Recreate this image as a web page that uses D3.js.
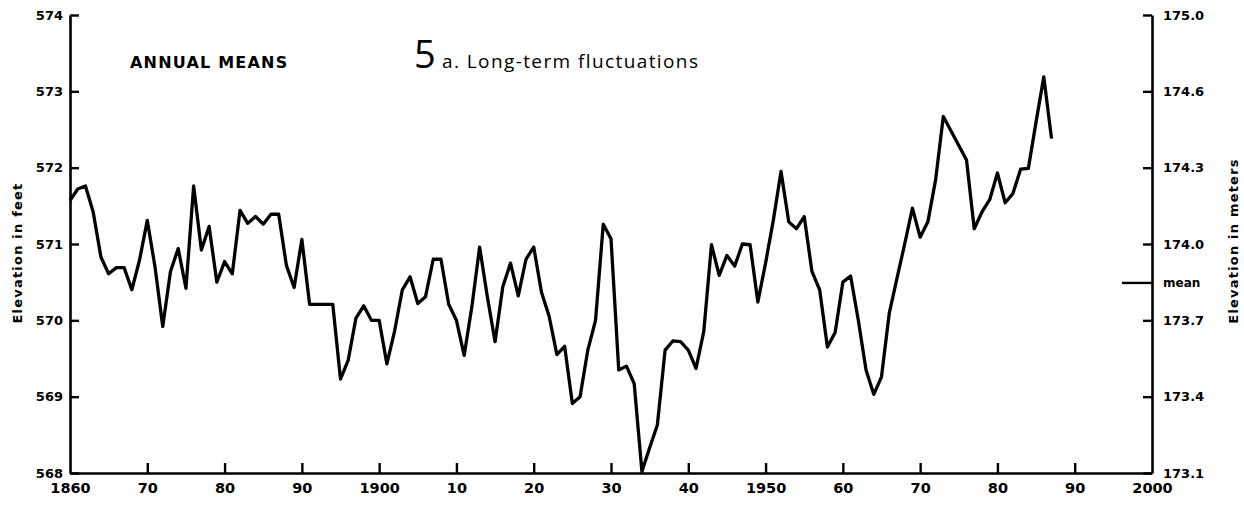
<!DOCTYPE html>
<html>
<head>
<meta charset="utf-8">
<script src="https://cdn.jsdelivr.net/npm/d3@7"></script>
<style>
  body { margin: 0; background: #fff; }
  svg { display: block; }
  .axis text { font-family: "DejaVu Sans", sans-serif; font-weight: bold; fill: #000; }
</style>
</head>
<body>
<script>
// annual mean lake level, feet, 1860-1987
var years = d3.range(1860, 1988);
var levels = [
  571.57, 571.72, 571.76, 571.42, 570.83, 570.61, 570.69, 570.69, 570.40, 570.79,
  571.31, 570.70, 569.92, 570.64, 570.94, 570.42, 571.76, 570.92, 571.23, 570.50,
  570.77, 570.61, 571.44, 571.27, 571.36, 571.26, 571.39, 571.39, 570.72, 570.43,
  571.06, 570.21, 570.21, 570.21, 570.21, 569.23, 569.48, 570.03, 570.19, 570.00,
  570.00, 569.43, 569.86, 570.40, 570.57, 570.22, 570.31, 570.80, 570.80, 570.21,
  570.00, 569.54, 570.18, 570.96, 570.31, 569.72, 570.44, 570.75, 570.32, 570.80,
  570.96, 570.37, 570.05, 569.55, 569.66, 568.91, 569.00, 569.61, 570.00, 571.26,
  571.07, 569.35, 569.40, 569.17, 568.02, 568.33, 568.63, 569.61, 569.73, 569.72,
  569.61, 569.37, 569.85, 570.99, 570.59, 570.85, 570.71, 571.00, 570.99, 570.24,
  570.75, 571.31, 571.95, 571.29, 571.20, 571.36, 570.64, 570.40, 569.65, 569.84,
  570.50, 570.58, 570.00, 569.35, 569.03, 569.26, 570.09, 570.55, 571.00, 571.47,
  571.09, 571.29, 571.84, 572.67, 572.48, 572.29, 572.10, 571.20, 571.42, 571.58,
  571.93, 571.54, 571.66, 571.98, 571.99, 572.60, 573.19, 572.38
];

var feetTicks = [568, 569, 570, 571, 572, 573, 574];
var meterLabels = ["173.1", "173.4", "173.7", "174.0", "174.3", "174.6", "175.0"];
var meanLevel = 570.49;

var yearTicks = d3.range(1860, 2001, 10);
var yearLabels = ["1860", "70", "80", "90", "1900", "10", "20", "30", "40", "1950", "60", "70", "80", "90", "2000"];

var data = years.map(function(y, i) { return {year: y, level: levels[i]}; });

var width = 1244, height = 514;
var plot = {left: 70, right: 1152, top: 15, bottom: 473};

var svg = d3.select("body").append("svg")
    .attr("width", width)
    .attr("height", height);

var x = d3.scaleLinear().domain([1860, 2000]).range([plot.left, plot.right]);
var y = d3.scaleLinear().domain([568, 574]).range([plot.bottom, plot.top]);

// left axis (feet)
var gl = svg.append("g")
    .attr("class", "axis")
    .attr("transform", "translate(" + plot.left + ",0)")
    .call(d3.axisLeft(y).tickValues(feetTicks).tickFormat(d3.format("d"))
      .tickSize(-9).tickSizeOuter(0).tickPadding(7));

// right axis (meters)
var gr = svg.append("g")
    .attr("class", "axis")
    .attr("transform", "translate(" + plot.right + ",0)")
    .call(d3.axisRight(y).tickValues(feetTicks)
      .tickFormat(function(d, i) { return meterLabels[i]; })
      .tickSize(-9).tickSizeOuter(0).tickPadding(11));

// bottom axis
var gb = svg.append("g")
    .attr("class", "axis")
    .attr("transform", "translate(0," + plot.bottom + ")")
    .call(d3.axisBottom(x).tickValues(yearTicks)
      .tickFormat(function(d, i) { return yearLabels[i]; })
      .tickSize(-10).tickSizeOuter(0).tickPadding(10));

svg.selectAll(".axis .domain").attr("stroke", "#000").attr("stroke-width", 2.6);
svg.selectAll(".axis .tick line").attr("stroke", "#000").attr("stroke-width", 2.4);
gl.selectAll("text").attr("font-size", 13);
gr.selectAll("text").attr("font-size", 13);
gb.selectAll("text").attr("font-size", 14.5);
gb.selectAll(".tick").filter(function(d) { return d == 1860 || d == 2000; }).select("line").remove();

// mean marker on the right
svg.append("line")
    .attr("x1", plot.right - 30).attr("x2", plot.right)
    .attr("y1", y(meanLevel)).attr("y2", y(meanLevel))
    .attr("stroke", "#000").attr("stroke-width", 2.4);
svg.append("text")
    .attr("x", plot.right + 11).attr("y", y(meanLevel))
    .attr("dy", "0.32em")
    .attr("font-family", "DejaVu Sans, sans-serif").attr("font-weight", "bold")
    .attr("font-size", 12).text("mean");

// axis titles
svg.append("text")
    .attr("transform", "translate(22,253) rotate(-90)")
    .attr("text-anchor", "middle")
    .attr("font-family", "DejaVu Sans, sans-serif").attr("font-weight", "bold")
    .attr("font-size", 13).attr("letter-spacing", 1.2).text("Elevation in feet");
svg.append("text")
    .attr("transform", "translate(1238,241) rotate(-90)")
    .attr("text-anchor", "middle")
    .attr("font-family", "DejaVu Sans, sans-serif").attr("font-weight", "bold")
    .attr("font-size", 13).attr("letter-spacing", 1.2).text("Elevation in meters");

// the series
var line = d3.line()
    .x(function(d) { return x(d.year); })
    .y(function(d) { return y(d.level); });

svg.append("path")
    .datum(data)
    .attr("fill", "none")
    .attr("stroke", "#000")
    .attr("stroke-width", 3.3)
    .attr("stroke-linejoin", "round")
    .attr("d", line);

// titles
svg.append("text")
    .attr("x", 130).attr("y", 68)
    .attr("font-family", "DejaVu Sans, sans-serif").attr("font-weight", "bold")
    .attr("font-size", 16).attr("letter-spacing", 1.2).text("ANNUAL MEANS");

var hand = svg.append("text")
    .attr("x", 414).attr("y", 68)
    .attr("font-family", "Open Sans, sans-serif")
    .attr("font-size", 19);
hand.append("tspan").attr("font-size", 38).text("5");
hand.append("tspan").attr("letter-spacing", 1.4).text(" a.  Long-term fluctuations");
</script>
</body>
</html>
